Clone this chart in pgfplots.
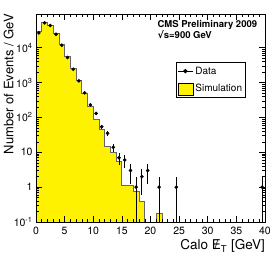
\documentclass[border=0pt]{standalone}
\usepackage{fontspec}
\setmainfont{TeX Gyre Heros}
\newfontfamily\djv{DejaVu Sans}
\usepackage{pgfplots}
\pgfplotsset{compat=1.18}
\begin{document}
\begin{tikzpicture}
\useasboundingbox (0,0) rectangle (279pt,257pt);
\begin{axis}[
  at={(36pt,35pt)}, anchor=south west,
  scale only axis, width=229pt, height=208pt,
  ymode=log, log origin=infty,
  xmin=0, xmax=40, ymin=0.1, ymax=9.27e4,
  xtick={0,5,...,40}, minor x tick num=4,
  ytick={0.1,1,10,100,1000,10000},
  yticklabels={10\textsuperscript{-1},1,10,10\textsuperscript{2},10\textsuperscript{3},10\textsuperscript{4}},
  tick align=inside, major tick length=6pt, minor tick length=3pt,
  tick style={black, line width=0.5pt},
  axis line style={line width=0.6pt},
  ticklabel style={font=\fontsize{10.5}{12}\selectfont},
  /pgf/number format/assume math mode=true,
  xticklabel style={yshift=-2pt},
  axis on top,
  xlabel={Calo {\ooalign{E\cr\hidewidth/\hidewidth}}\textsubscript{T} [GeV]},
  xlabel style={at={(axis description cs:1,-0.1346)}, anchor=base east, inner sep=0pt, font=\fontsize{13.5}{15}\selectfont},
  ylabel={Number of Events / GeV},
  ylabel style={at={(axis description cs:-0.099,1)}, anchor=base east, inner sep=0pt, font=\fontsize{13}{15}\selectfont},
  legend style={at={(0.612,0.767)}, anchor=north west, draw=black, line width=0.5pt, fill=white,
    font=\fontsize{10}{12}\selectfont, inner xsep=1pt, inner ysep=2pt, row sep=5pt,
    nodes={inner sep=2pt}},
  legend cell align=left,
]
\addlegendimage{legend image code/.code={\draw[black, line width=1pt] (0pt,0pt) -- (15pt,0pt); \draw[black, line width=1pt, mark=*, mark size=1.6pt] plot coordinates {(7.5pt,0pt)};}}
\addlegendentry{Data}
\addlegendimage{legend image code/.code={\draw[fill=yellow, draw=black, line width=0.5pt] (0pt,-6pt) rectangle (15pt,6pt);}}
\addlegendentry{Simulation\hspace{23pt}}

\addplot[const plot mark left, fill=yellow, draw=gray!80!black, line width=0.8pt, forget plot] coordinates {
(0,1e-3) (0,29000) (1,53800) (2,45000) (3,25500) (4,12600) (5,5700) (6,2590) (7,1120)
(8,488) (9,211) (10,87.6) (11,45) (12,14.4) (13,9.7) (14,5.4) (15,1.1) (16,1.1)
(17,0.76) (18,0.38) (19,1e-3) (20,1e-3) (21,0.18) (22,1e-3) (23,1e-3)
};

\addplot[only marks, mark=*, mark size=1.6pt, black, forget plot,
  error bars/.cd, y dir=both, y explicit, error mark=none,
  error bar style={line width=1pt, black}] coordinates {
(0.5,26500) += (0,163) -= (0,163)
(1.5,51400) += (0,227) -= (0,227)
(2.5,43300) += (0,208) -= (0,208)
(3.5,24400) += (0,156) -= (0,156)
(4.5,11800) += (0,109) -= (0,109)
(5.5,5240) += (0,72) -= (0,72)
(6.5,2420) += (0,49) -= (0,49)
(7.5,1120) += (0,33) -= (0,33)
(8.5,507) += (0,22.5) -= (0,22.5)
(9.5,230) += (0,15.2) -= (0,15.2)
(10.5,130) += (0,11.4) -= (0,11.4)
(11.5,54) += (0,7.35) -= (0,7.35)
(12.5,35) += (0,5.9) -= (0,5.9)
(13.5,14) += (0,3.74) -= (0,3.74)
(14.5,7) += (0,2.65) -= (0,2.65)
(15.5,6) += (0,2.45) -= (0,2.45)
(16.5,3) += (0,1.73) -= (0,1.73)
(17.5,1) += (0,1) -= (0,0.9999)
(18.5,2) += (0,1.41) -= (0,1.41)
(19.5,3) += (0,1.73) -= (0,1.73)
(21.5,1) += (0,1) -= (0,0.9999)
(24.5,1) += (0,1) -= (0,0.9999)
(39.5,1) += (0,1) -= (0,0.9999)
};

\node[anchor=west, inner sep=0pt, font=\bfseries\fontsize{9.5}{11}\selectfont] at (axis description cs:0.53,0.947) {CMS Preliminary 2009};
\node[anchor=west, inner sep=0pt, font=\bfseries\fontsize{9.5}{11}\selectfont] at (axis description cs:0.53,0.899) {{\djv\bfseries √}s=900 GeV};
\end{axis}
\end{tikzpicture}
\end{document}
